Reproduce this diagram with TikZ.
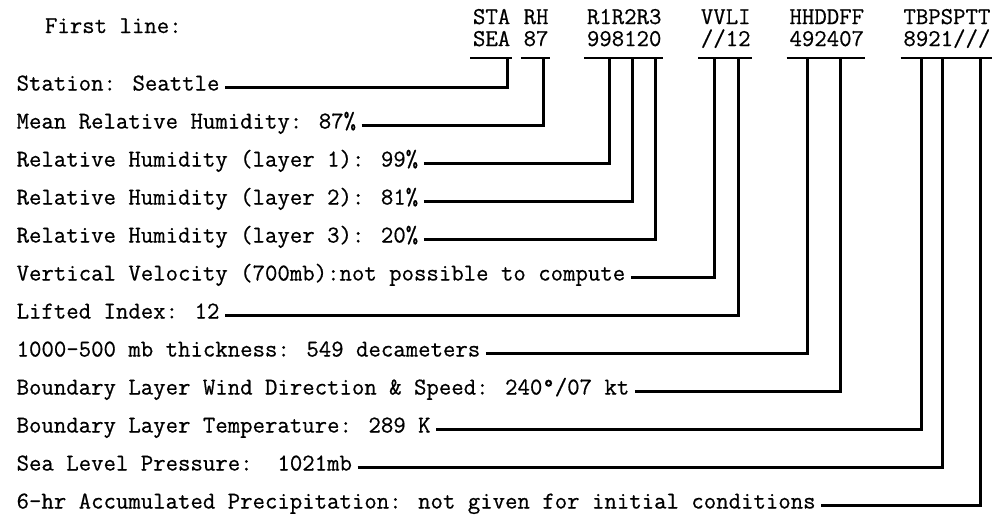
\documentclass[tikz,border=0pt]{standalone}
\usepackage{fontspec}
\newfontfamily\typer{Latin Modern Mono}[FakeBold=0.6]
\usetikzlibrary{calc,positioning}
\newcommand{\fieldx}[1]{473+12.66*#1}

\begin{document}
\begin{tikzpicture}[
    x=0.025cm, y=-0.025cm,
    every node/.style={font=\fontsize{17.15pt}{20pt}\selectfont\typer, inner sep=0pt, outer sep=0pt},
    item/.style={anchor=base west, outer xsep=4pt},
    head/.style={anchor=base west, text depth=0pt},
    field/.style={anchor=base west, text height=10pt, text depth=8.5pt},
    uline/.style={line width=2pt},
    link/.style={line width=2pt}
]
\useasboundingbox (0,0) rectangle (998,516);

\node[head] (first) at (45,33) {First line:};

\node[head] (hsta) at ({\fieldx{0}},24) {STA};
\node[head] (hrh) at ({\fieldx{4}},24) {RH};
\node[head] (hr) at ({\fieldx{9}},24) {R1R2R3};
\node[head] (hvv) at ({\fieldx{18}},24) {VVLI};
\node[head] (hhh) at ({\fieldx{25}},24) {HHDDFF};
\node[head] (htb) at ({\fieldx{34}},24) {TBPSPTT};

\node[field] (fsea) at ({\fieldx{0}},46) {SEA};
\node[field] (f87) at ({\fieldx{4}},46) {87};
\node[field] (f99) at ({\fieldx{9}},46) {99};
\node[field, base right=0pt of f99] (f81) {81};
\node[field, base right=0pt of f81] (f20) {20};
\node[field] (fvv) at ({\fieldx{18}},46) {//};
\node[field, base right=0pt of fvv] (fli) {12};
\node[field] (fhh) at ({\fieldx{25}},46) {49};
\node[field, base right=0pt of fhh] (fddff) {2407};
\node[field] (ftb) at ({\fieldx{34}},46) {89};
\node[field, base right=0pt of ftb] (fps) {21};
\node[field, base right=0pt of fps] (fpt) {///};

\foreach \f in {fsea,f87,f99,f81,f20,fvv,fli,fhh,fddff,ftb,fps,fpt}
    \draw[uline] ([xshift=-2pt]\f.south west) -- ([xshift=1pt]\f.south east);

\node[item] (st) at (11,90.5) {Station: Seattle};
\node[item] (mrh) at (11,128.5) {Mean Relative Humidity: 87\%};
\node[item] (rh1) at (11,166.5) {Relative Humidity (layer 1): 99\%};
\node[item] (rh2) at (11,204.5) {Relative Humidity (layer 2): 81\%};
\node[item] (rh3) at (11,242.5) {Relative Humidity (layer 3): 20\%};
\node[item] (vv) at (11,280.5) {Vertical Velocity (700mb):not possible to compute};
\node[item] (li) at (11,318.5) {Lifted Index: 12};
\node[item] (thk) at (11,356.5) {1000-500 mb thickness: 549 decameters};
\node[item] (wind) at (11,394.5) {Boundary Layer Wind Direction \& Speed: 240°/07 kt};
\node[item] (tmp) at (11,432.5) {Boundary Layer Temperature: 289 K};
\node[item] (slp) at (11,470.5) {Sea Level Pressure:~~1021mb};
\node[item] (pcp) at (11,508.5) {6-hr Accumulated Precipitation: not given for initial conditions};

\draw[link] (st.mid east) -| ($(fsea.south west)!0.92!(fsea.south east)$);
\draw[link] (mrh.mid east) -| ($(f87.south west)!0.8!(f87.south east)$);
\draw[link] (rh1.mid east) -| ($(f99.south west)!0.9!(f99.south east)$);
\draw[link] (rh2.mid east) -| ($(f81.south west)!0.84!(f81.south east)$);
\draw[link] (rh3.mid east) -| ($(f20.south west)!0.77!(f20.south east)$);
\draw[link] (vv.mid east) -| ($(fvv.south west)!0.55!(fvv.south east)$);
\draw[link] (li.mid east) -| ($(fli.south west)!0.5!(fli.south east)$);
\draw[link] (thk.mid east) -| ($(fhh.south west)!0.73!(fhh.south east)$);
\draw[link] (wind.mid east) -| ($(fddff.south west)!0.53!(fddff.south east)$);
\draw[link] (tmp.mid east) -| ($(ftb.south west)!0.73!(ftb.south east)$);
\draw[link] (slp.mid east) -| ($(fps.south west)!0.58!(fps.south east)$);
\draw[link] (pcp.mid east) -| ($(fpt.south west)!0.74!(fpt.south east)$);

\end{tikzpicture}
\end{document}
